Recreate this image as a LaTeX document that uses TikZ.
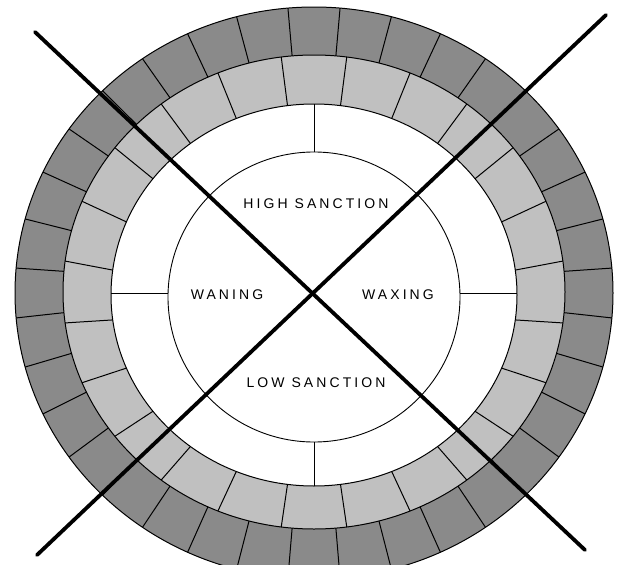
\documentclass[tikz,border=0pt]{standalone}
\usepackage{fontspec}
\setmainfont{Liberation Sans}
\newfontfamily\lblfont[LetterSpace=22]{Liberation Sans}
\definecolor{dk}{RGB}{138,138,138}
\definecolor{lt}{RGB}{192,192,192}
\begin{document}
\begin{tikzpicture}[x=1pt,y=-1pt,
  ring/.style={line width=1.0pt},
  thinline/.style={line width=0.9pt},
  cross/.style={line width=3.8pt,line cap=round},
  lbl/.style={font={\lblfont\fontsize{14}{14}\selectfont}, anchor=base, inner sep=0pt}]
\useasboundingbox (0,0) rectangle (622,565);
\clip (0,0) rectangle (622,565);
\fill[white] (0,0) rectangle (622,565);
% rings
\filldraw[fill=dk, ring] (314,293) ellipse [x radius=299pt, y radius=286pt];
\filldraw[fill=lt, ring] (314,292) ellipse [x radius=251pt, y radius=237pt];
\filldraw[fill=white, ring] (314,295) ellipse [x radius=203pt, y radius=191pt];
\draw[thinline] (314,297) ellipse [x radius=146pt, y radius=145pt];
% dark ring dividers
\foreach \a in {5,15,...,355}
  \draw[ring] ({314+251*cos(\a)},{292-237*sin(\a)}) -- ({314+299*cos(\a)},{293-286*sin(\a)});
% light ring dividers
\foreach \a in {7.5,22.5,...,352.5}
  \draw[ring] ({314+203*cos(\a)},{295-191*sin(\a)}) -- ({314+251*cos(\a)},{292-237*sin(\a)});
% white zone dividers
\coordinate (wl1) at (168,293); \coordinate (wl2) at (111,293);
\coordinate (wr1) at (460,293); \coordinate (wr2) at (517,293);
\coordinate (wt1) at (314,152); \coordinate (wt2) at (314,104);
\coordinate (wb1) at (314,442); \coordinate (wb2) at (314,486);
\draw[thinline] (wl1) -- (wl2);
\draw[thinline] (wr1) -- (wr2);
\draw[thinline] (wt1) -- (wt2);
\draw[thinline] (wb1) -- (wb2);
% labels
\node[lbl] (hs) at (316,208) {HIGH SANCTION};
\node[lbl] (ls) at (316,387) {LOW SANCTION};
\node[lbl] (wan) at (227,299) {WANING};
\node[lbl] (wax) at (398,299) {WAXING};
% cross
\coordinate (tl) at (35,32);
\coordinate (br) at (585,550);
\coordinate (tr) at (606,15);
\coordinate (bl) at (37,555);
\draw[cross] (tl) -- (br);
\draw[cross] (tr) -- (bl);
\end{tikzpicture}
\end{document}
